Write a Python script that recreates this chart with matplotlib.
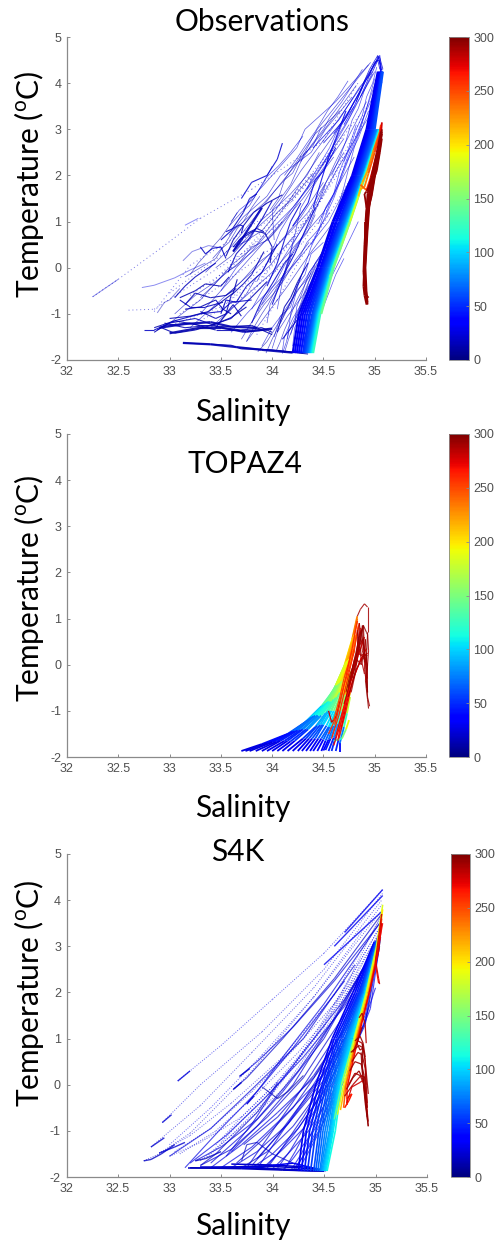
import numpy as np
import matplotlib
matplotlib.use("Agg")
import matplotlib.pyplot as plt
from matplotlib.collections import LineCollection
from matplotlib.colors import Normalize
from matplotlib.cm import ScalarMappable

plt.rcParams['font.family'] = ['Liberation Sans']
plt.rcParams['mathtext.fontset'] = 'custom'
plt.rcParams['mathtext.rm'] = 'Lato'
plt.rcParams['axes.unicode_minus'] = False

W, H = 495, 1243
nan = float('nan')
x_ticks = [32, 32.5, 33, 33.5, 34, 34.5, 35, 35.5]
x_labels = ['32', '32.5', '33', '33.5', '34', '34.5', '35', '35.5']
y_ticks = [-2, -1, 0, 1, 2, 3, 4, 5]
c_ticks = [0, 50, 100, 150, 200, 250, 300]

# ---------- Observations ----------
obs_t_levels = [-1.85, -1, 0, 1, 2, 3, 4.25]
obs_fan_d = [28, 32, 36, 40, 44, 48, 52, 56, 60, 66, 72, 80, 90, 100, 110, 125, 145]
obs_fan_s = [
    [34.20, 34.26, 34.44, 34.59, 34.78, 34.92, 35.03],
    [34.22, 34.28, 34.45, 34.60, 34.79, 34.93, 35.04],
    [34.24, 34.30, 34.47, 34.62, 34.80, 34.94, 35.05],
    [34.26, 34.32, 34.48, 34.63, 34.81, 34.95, 35.06],
    [34.28, 34.34, 34.49, 34.65, 34.82, 34.96, 35.06],
    [34.30, 34.36, 34.50, 34.66, 34.83, 34.97, 35.07],
    [34.31, 34.37, 34.51, 34.67, 34.84, 34.98, 35.07],
    [34.32, 34.39, 34.52, 34.68, 34.85, 34.99, 35.07],
    [34.33, 34.40, 34.53, 34.69, 34.86, 35.00, 35.08],
    [34.34, 34.41, 34.54, 34.70, 34.87, 35.01, nan],
    [34.35, 34.42, 34.55, 34.71, 34.88, 35.02, nan],
    [34.36, 34.43, 34.56, 34.72, 34.89, 35.03, nan],
    [34.37, 34.44, 34.57, 34.73, 34.89, 35.04, nan],
    [34.38, 34.45, 34.58, 34.74, 34.90, 35.04, nan],
    [34.39, 34.46, 34.59, 34.75, 34.90, 35.05, nan],
    [34.40, 34.47, 34.59, 34.75, 34.91, 35.05, nan],
    [nan, 34.48, 34.60, 34.76, 34.91, 35.06, nan],
]
obs_warm_s = [[34.56, 34.60, 34.68, 34.76, 34.85],
              [34.84, 34.88, 34.93, 34.99, 35.05, 35.06],
              [34.86, 34.90, 34.94, 35.00, 35.05, 35.06],
              [34.86, 34.92, 34.96, 35.02, 35.06, 35.07]]
obs_warm_t = [[-0.2, 0.0, 0.5, 1.0, 1.6],
              [1.55, 1.85, 2.1, 2.55, 2.95, 3.1],
              [1.7, 1.75, 2.05, 2.5, 2.9, 3.05],
              [1.8, 1.68, 1.95, 2.45, 2.85, 3.15]]
obs_warm_d = [[130, 145, 155, 170, 195],
              [205, 215, 225, 235, 245, 250],
              [215, 225, 240, 250, 260, 265],
              [235, 250, 265, 270, 275, 280]]
obs_deep_s = [[35.06, 35.02, 34.97, 34.93, 34.91, 34.91, 34.90, 34.92, 34.94],
              [35.06, 35.03, 34.98, 34.95, 34.92, 34.90, 34.89, 34.91, 34.93],
              [35.07, 35.04, 35.00, 34.96, 34.93, 34.91, 34.90, 34.91, 34.93],
              [35.07, 35.05, 35.02, 34.98, 34.95, 34.93, 34.91, 34.92, 34.93],
              [35.06, 35.04, 35.01, 34.97, 34.94, 34.92, 34.90, 34.91, 34.92],
              [35.07, 35.05, 35.02, 34.96, 34.92, 34.90, 34.89, 34.90, 34.92],
              [35.05, 35.02, 34.98, 34.92, 34.90, 34.92],
              [35.07, 35.05, 35.0, 34.97, 34.94, 34.93]]
obs_deep_t = [[2.95, 2.5, 2.0, 1.6, 1.0, 0.4, -0.2, -0.6, -0.65],
              [2.85, 2.45, 1.95, 1.7, 1.2, 0.5, -0.1, -0.5, -0.78],
              [2.9, 2.55, 2.1, 1.75, 1.1, 0.3, -0.3, -0.6, -0.8],
              [3.0, 2.7, 2.3, 1.85, 1.4, 0.8, 0.0, -0.5, -0.75],
              [2.9, 2.6, 2.15, 1.6, 1.25, 0.6, -0.2, -0.55, -0.7],
              [2.8, 2.5, 2.1, 1.75, 1.0, 0.2, -0.4, -0.6, -0.8],
              [2.75, 2.4, 1.95, 1.65, 1.6, 1.3],
              [2.95, 2.55, 1.95, 1.55, 1.3, 1.0]]
obs_thin_s = [
    [33.05, 33.25, 33.45, 33.7, 34.0, 34.3, 34.6],
    [33.2, 33.4, 33.6, 33.85, 34.1, 34.35, 34.7],
    [33.4, 33.55, 33.75, 34.0, 34.25, 34.5, 34.8],
    [33.6, 33.75, 33.9, 34.1, 34.3, 34.55, 34.85],
    [33.75, 33.85, 34.0, 34.15, 34.35, 34.6, 34.9],
    [33.9, 34.0, 34.1, 34.25, 34.45, 34.7, 34.95],
    [34.0, 34.05, 34.15, 34.3, 34.5, 34.75, 35.0],
    [34.1, 34.12, 34.2, 34.35, 34.55, 34.8, 35.0],
    [33.3, 33.5, 33.7, 33.9, 34.1, 34.4, 34.75],
    [33.5, 33.65, 33.8, 34.0, 34.2, 34.45, 34.7],
    [33.8, 33.9, 34.05, 34.22, 34.4, 34.65, 34.95],
    [33.0, 33.3, 33.6, 33.85, 34.15, 34.45, 34.8],
    [33.95, 33.98, 34.12, 34.2, 34.42, 34.62, 34.92],
    [33.65, 33.82, 34.02, 34.18, 34.28, 34.58, 34.86],
    [33.15, 33.45, 33.62, 33.92, 34.12, 34.42, 34.66],
    [34.15, 34.18, 34.25, 34.38, 34.6, 34.82, 35.02],
    [33.58, 33.72, 33.95, 34.08, 34.38, 34.52, 34.78],
    [33.85, 33.95, 34.08, 34.3, 34.48, 34.72, 34.98],
    [34.05, 34.1, 34.22, 34.28, 34.52, 34.68, 34.88],
    [33.35, 33.58, 33.78, 34.02, 34.22, 34.48, 34.82],
    [34.02, 34.0, 34.18, 34.32, 34.44, 34.78, 34.96],
    [33.72, 33.8, 33.98, 34.24, 34.32, 34.62, 34.94],
    [33.45, 33.6, 33.72, 33.9, 34.05, 34.2, 34.4],
    [33.55, 33.7, 33.86, 33.98, 34.15, 34.28, 34.5],
    [33.62, 33.78, 33.88, 34.06, 34.18, 34.34, 34.46],
    [33.9, 34.02, 34.14, 34.26, 34.34, 34.44, 34.56],
    [34.08, 34.16, 34.24, 34.36, 34.42, 34.56, 34.66],
    [34.18, 34.24, 34.32, 34.4, 34.5, 34.62, 34.76],
    [34.3, 34.36, 34.44, 34.5, 34.6, 34.7, 34.84],
    [34.42, 34.48, 34.54, 34.6, 34.7, 34.8, 34.9],
    [34.5, 34.56, 34.64, 34.7, 34.76, 34.86, 34.96],
    [34.64, 34.7, 34.74, 34.8, 34.86, 34.92, 35.0],
    [33.3, 33.42, 33.55, 33.66, 33.8, 33.96, 34.1],
    [33.5, 33.62, 33.74, 33.85, 33.98, 34.1, 34.22],
    [33.7, 33.78, 33.92, 34.02, 34.12, 34.22, 34.36],
    [33.86, 33.92, 34.04, 34.12, 34.24, 34.34, 34.42],
    [33.6, 33.68, 33.82, 33.94, 34.06, 34.18, 34.3],
    [34.02, 34.08, 34.18, 34.24, 34.32, 34.38, 34.5],
    [34.1, 34.14, 34.2, 34.3, 34.38, 34.46, 34.52],
    [34.2, 34.22, 34.28, 34.34, 34.42, 34.5, 34.58],
    [34.22, 34.24, 34.3, 34.36, 34.46, 34.54, 34.64],
    [33.98, 34.06, 34.12, 34.2, 34.28, 34.4, 34.48],
    [34.38, 34.46, 34.52, 34.6, 34.66, 34.74, 34.82],
    [34.52, 34.58, 34.66, 34.72, 34.8, 34.88, 34.98],
    [34.45, 34.5, 34.6, 34.68, 34.76, 34.84, 34.94],
    [34.7, 34.76, 34.82, 34.88, 34.92, 34.98, 35.02],
    [34.58, 34.66, 34.72, 34.78, 34.84, 34.9, 35.0],
    [34.34, 34.4, 34.48, 34.56, 34.64, 34.72, 34.8],
    [33.86, 33.95, 34.02, 34.1, 34.16, 34.22, 34.28],
    [33.94, 34.0, 34.08, 34.12, 34.2, 34.26, 34.32],
    [34.04, 34.08, 34.12, 34.18, 34.22, 34.3, 34.38],
    [34.1, 34.14, 34.16, 34.22, 34.26, 34.32, 34.42],
    [34.12, 34.16, 34.2, 34.24, 34.3, 34.36, 34.44],
    [33.75, 33.82, 33.9, 33.96, 34.04, 34.1, 34.18],
    [33.42, 33.5, 33.58, 33.66, 33.72, 33.8, 33.88],
    [33.58, 33.64, 33.7, 33.78, 33.86, 33.92, 34.0],
    [33.2, 33.28, 33.36, 33.42, 33.5, 33.58, 33.66],
    [34.28, 34.32, 34.38, 34.42, 34.48, 34.52, 34.6],
    [34.36, 34.4, 34.44, 34.5, 34.56, 34.62, 34.7],
    [34.12, 34.22, 34.34, 34.42, 34.54, 34.64, 34.74],
    [34.28, 34.38, 34.5, 34.56, 34.68, 34.78, 34.88],
    [34.48, 34.58, 34.64, 34.74, 34.82, 34.9, 34.98],
]
obs_thin_t = [
    [-1.0, -0.6, -0.3, 0.15, 0.7, 1.5, 2.4],
    [-1.3, -0.9, -0.5, 0.0, 0.6, 1.2, 2.5],
    [-1.3, -1.0, -0.6, -0.1, 0.55, 1.2, 2.4],
    [-1.4, -1.0, -0.65, -0.2, 0.3, 1.0, 2.3],
    [-1.6, -1.3, -0.85, -0.4, 0.25, 1.0, 2.4],
    [-1.7, -1.3, -1.0, -0.5, 0.2, 1.1, 2.5],
    [-1.75, -1.4, -1.05, -0.6, 0.1, 1.05, 2.7],
    [-1.8, -1.5, -1.1, -0.55, 0.2, 1.25, 2.9],
    [-1.0, -0.5, 0.0, 0.5, 1.0, 1.9, 3.1],
    [-0.5, 0.0, 0.35, 0.85, 1.3, 2.0, 2.8],
    [-0.9, -0.5, 0.0, 0.6, 1.2, 2.2, 3.3],
    [-1.2, -0.7, 0.05, 0.5, 1.4, 2.4, 3.5],
    [-1.2, -0.8, -0.2, 0.5, 1.35, 2.3, 3.6],
    [0.4, 0.8, 1.2, 1.75, 2.1, 3.0, 3.9],
    [-0.2, 0.2, 0.8, 1.4, 1.9, 2.9, 3.4],
    [-1.55, -1.0, -0.4, 0.45, 1.5, 2.8, 4.1],
    [0.7, 1.1, 1.55, 2.0, 2.5, 3.0, 3.7],
    [-0.3, 0.1, 0.8, 1.6, 2.2, 3.1, 4.2],
    [-0.9, -0.3, 0.7, 1.3, 2.2, 3.1, 3.9],
    [-0.1, 0.4, 0.95, 1.65, 2.2, 2.9, 3.95],
    [0.6, 1.25, 1.8, 2.5, 3.0, 3.95, 4.45],
    [1.25, 1.5, 1.95, 2.6, 3.0, 3.6, 4.4],
    [0.0, 0.25, 0.55, 0.8, 1.2, 1.5, 2.05],
    [-0.6, -0.3, 0.1, 0.3, 0.75, 1.1, 1.85],
    [0.45, 0.6, 1.0, 1.35, 1.6, 2.0, 2.5],
    [-0.8, -0.45, -0.15, 0.2, 0.55, 0.8, 1.2],
    [-1.2, -0.85, -0.5, -0.2, 0.1, 0.55, 0.9],
    [-1.45, -1.05, -0.8, -0.45, -0.05, 0.4, 0.95],
    [-1.6, -1.25, -0.85, -0.55, -0.1, 0.35, 1.0],
    [-0.7, -0.3, 0.05, 0.4, 0.95, 1.5, 2.15],
    [0.1, 0.4, 0.85, 1.15, 1.65, 2.2, 2.85],
    [1.3, 1.75, 2.1, 2.6, 3.0, 3.45, 4.1],
    [-0.65, -0.4, -0.1, 0.05, 0.45, 0.6, 1.0],
    [-1.15, -0.85, -0.6, -0.2, 0.05, 0.4, 0.7],
    [-1.55, -1.25, -0.8, -0.55, -0.25, 0.15, 0.55],
    [-0.95, -0.7, -0.3, 0.05, 0.5, 0.75, 1.15],
    [1.0, 1.25, 1.5, 1.95, 2.2, 2.5, 2.85],
    [-1.5, -1.05, -0.85, -0.4, -0.15, 0.3, 0.55],
    [-0.25, 0.05, 0.3, 0.7, 1.0, 1.45, 1.8],
    [-1.7, -1.3, -1.0, -0.75, -0.4, -0.05, 0.3],
    [-1.2, -0.85, -0.5, -0.1, 0.2, 0.6, 1.1],
    [1.25, 1.5, 1.9, 2.05, 2.4, 2.65, 3.05],
    [0.5, 0.85, 1.3, 1.6, 2.1, 2.55, 3.1],
    [1.15, 1.5, 1.9, 2.3, 2.75, 3.2, 3.7],
    [0.95, 1.2, 1.55, 2.05, 2.45, 2.8, 3.4],
    [2.3, 2.6, 3.0, 3.3, 3.7, 4.0, 4.35],
    [2.0, 2.4, 2.75, 3.2, 3.45, 3.85, 4.25],
    [1.7, 2.0, 2.3, 2.6, 3.0, 3.25, 3.6],
    [-1.82, -1.6, -1.35, -1.05, -0.85, -0.55, -0.2],
    [-1.85, -1.55, -1.2, -1.0, -0.65, -0.3, 0.0],
    [-1.8, -1.6, -1.35, -1.05, -0.8, -0.45, -0.1],
    [-1.86, -1.6, -1.4, -1.1, -0.9, -0.5, 0.05],
    [-1.84, -1.55, -1.3, -1.05, -0.7, -0.3, 0.1],
    [-1.6, -1.3, -1.0, -0.8, -0.45, -0.2, 0.2],
    [0.2, 0.4, 0.55, 0.85, 1.0, 1.3, 1.55],
    [0.9, 1.05, 1.2, 1.35, 1.65, 1.85, 2.2],
    [-0.15, 0.1, 0.3, 0.45, 0.65, 0.9, 1.2],
    [-1.8, -1.5, -1.2, -0.9, -0.65, -0.3, 0.05],
    [-1.75, -1.45, -1.2, -0.85, -0.5, -0.15, 0.2],
    [2.0, 2.3, 2.7, 2.95, 3.4, 3.7, 4.05],
    [2.3, 2.65, 3.0, 3.25, 3.6, 3.95, 4.3],
    [2.2, 2.55, 2.85, 3.2, 3.55, 3.85, 4.25],
]
obs_thin_d = [18, 22, 20, 25, 18, 24, 22, 28, 20, 26, 24, 18, 22, 20, 16, 30, 22, 26, 24, 18, 20, 22,
              15, 18, 22, 24, 20, 26, 28, 24, 30, 26, 16, 20, 18, 22, 25, 28, 24, 30, 26, 20, 32, 34, 30, 30, 28, 32,
              14, 16, 18, 20, 22, 16, 18, 20, 14, 26, 28, 24, 26, 30]
obs_dark_s = [
    [32.85, 32.95, 33.2, 33.45, 33.7, 33.9, 34.0],
    [32.88, 33.0, 33.25, 33.5, 33.72, 33.95],
    [32.85, 33.05, 33.3, 33.55, 33.8, 34.0],
    [32.75, 32.85, 33.05, 33.3, 33.5, 33.6, 33.8],
    [32.95, 33.15, 33.4, 33.6, 33.75, 33.95],
    [33.13, 33.4, 33.6, 33.7, 34.0, 34.3],
    [33.68, 33.85, 34.05, 34.35],
    [33.05, 33.15, 33.25, 33.38, 33.45],
    [33.1, 33.2, 33.35, 33.52],
    [33.15, 33.25, 33.4, 33.55, 33.65],
    [33.57, 33.65, 33.75, 33.9, 34.0],
    [33.62, 33.68, 33.82, 33.93, 34.0, 33.98],
    [33.45, 33.55, 33.6, 33.72, 33.8, 33.92],
    [33.5, 33.55, 33.65, 33.75, 33.9, 34.05],
    [33.8, 33.9, 34.0, 34.12, 34.2],
    [34.0, 34.1, 34.22, 34.3, 34.42],
    [34.2, 34.35, 34.42, 34.5, 34.62],
    [33.7, 33.8, 33.95, 34.05, 34.1],
    [33.5, 33.6, 33.72, 33.78, 33.85],
    [34.4, 34.48, 34.55, 34.62, 34.72],
    [33.95, 34.05, 34.12, 34.18, 34.28],
    [33.3, 33.45, 33.55, 33.62, 33.7],
    [33.1, 33.25, 33.35, 33.5, 33.58],
    [33.15, 33.3, 33.45, 33.52, 33.6],
    [32.92, 33.05, 33.25, 33.45, 33.6, 33.75],
    [33.0, 33.2, 33.38, 33.5, 33.62, 33.66],
    [33.55, 33.62, 33.7, 33.82, 33.95, 34.1],
    [33.62, 33.7, 33.76, 33.85, 33.92],
    [33.55, 33.62, 33.68, 33.72, 33.7],
    [33.3, 33.35, 33.42, 33.5, 33.55],
    [34.05, 34.12, 34.18, 34.25, 34.35],
    [34.1, 34.22, 34.35, 34.4, 34.48],
]
obs_dark_t = [
    [-1.4, -1.25, -1.2, -1.35, -1.35, -1.3, -1.4],
    [-1.35, -1.2, -1.1, -1.3, -1.4, -1.35],
    [-1.3, -1.15, -1.25, -1.28, -1.25, -1.45],
    [-1.35, -1.35, -1.15, -1.0, -0.95, -0.75, -0.7],
    [-1.2, -1.3, -1.25, -1.1, -0.75, -0.3],
    [-1.63, -1.66, -1.68, -1.76, -1.78, -1.85],
    [-1.73, -1.76, -1.8, -1.87],
    [-0.65, -0.4, -0.2, 0.0, 0.1],
    [-0.7, -0.85, -0.85, -0.75],
    [-0.8, -0.55, -0.65, -0.6, -0.45],
    [-0.1, 0.3, 0.55, 1.05, 1.45],
    [0.35, 0.6, 0.8, 0.75, 0.45, 0.1],
    [-1.3, -1.0, -0.6, -0.35, -0.15, 0.35],
    [-1.0, -0.7, -0.75, -0.4, -0.1, 0.5],
    [-1.2, -0.7, -0.35, 0.1, 0.3],
    [-0.8, -0.2, 0.3, 0.7, 1.3],
    [0.9, 1.4, 1.9, 2.1, 2.6],
    [1.5, 1.85, 2.0, 2.35, 2.7],
    [0.6, 0.8, 1.2, 1.5, 1.6],
    [1.3, 1.9, 2.4, 2.8, 3.4],
    [-0.4, 0.1, 0.6, 1.0, 1.4],
    [-0.95, -1.1, -1.0, -0.8, -1.05],
    [-0.65, -0.5, -0.35, -0.4, -0.2],
    [-0.9, -0.85, -0.7, -0.9, -1.0],
    [-1.3, -1.42, -1.35, -1.22, -1.08, -0.85],
    [-1.1, -1.05, -0.95, -0.75, -0.55, -0.25],
    [0.25, 0.6, 0.85, 1.2, 1.4, 1.58],
    [0.45, 0.65, 0.75, 0.85, 0.78],
    [0.78, 0.85, 0.93, 0.9, 0.75],
    [0.45, 0.3, 0.42, 0.45, 0.2],
    [-1.4, -0.85, -0.65, -0.3, 0.1],
    [-1.55, -1.2, -0.85, -0.5, -0.1],
]
obs_dark_d = [14, 16, 12, 18, 15, 14, 12, 16, 16, 14, 18, 14, 16, 18, 20, 22, 26, 20, 18, 28, 22, 15, 14, 14, 12, 14, 15, 16, 18, 18, 16, 20]
obs_top_s = [[34.5, 34.7, 34.85, 34.95, 35.03, 35.05, 35.06],
             [34.6, 34.75, 34.9, 35.0, 35.04, 35.05, 35.05],
             [34.4, 34.65, 34.85, 34.98, 35.03, 35.05, 35.07],
             [34.7, 34.8, 34.92, 35.02, 35.05, 35.06, 35.07],
             [34.82, 34.9, 34.98, 35.02, 35.03, 35.05, 35.08],
             [34.86, 34.92, 34.97, 35.0, 35.04, 35.06, 35.07]]
obs_top_t = [[2.7, 3.2, 3.8, 4.3, 4.6, 4.45, 4.1],
             [2.9, 3.4, 4.0, 4.4, 4.55, 4.4, 4.2],
             [2.6, 3.2, 3.9, 4.25, 4.5, 4.3, 4.3],
             [3.1, 3.5, 4.1, 4.5, 4.6, 4.3, 4.0],
             [3.6, 4.05, 4.35, 4.5, 4.58, 4.55, 4.3],
             [3.7, 4.0, 4.3, 4.45, 4.5, 4.4, 4.25]]
obs_top_d = [25, 30, 28, 35, 22, 26]
obs_dot_s = [[32.25, 32.5, 32.9, 33.3, 33.8, 34.5, 34.85], [32.6, 32.85, 33.3, 33.7, 34.1], [32.85, 33.2, 33.7, 34.2, 34.6],
             [33.2, 33.6, 34.0, 34.4, 34.85], [33.5, 33.85, 34.15, 34.6, 34.95], [32.95, 33.5, 33.9, 34.45, 34.9],
             [33.0, 33.4, 33.8, 34.2, 34.6], [33.4, 33.75, 34.0, 34.35, 34.7], [33.7, 33.95, 34.2, 34.5, 34.75],
             [33.1, 33.55, 33.95, 34.3, 34.5], [33.85, 34.05, 34.25, 34.5, 34.8], [33.3, 33.7, 34.05, 34.3, 34.55]]
obs_dot_t = [[-0.63, -0.25, 0.4, 1.07, 1.7, 2.75, 4.05], [-0.92, -0.9, -0.25, 0.3, 1.0], [-0.95, 0.05, 0.75, 1.55, 2.5],
             [-0.6, 0.0, 0.95, 2.0, 3.3], [-0.9, -0.1, 0.5, 2.0, 3.6], [-1.3, -0.85, -0.2, 1.35, 3.2],
             [-0.55, 0.1, 0.75, 1.45, 2.5], [-0.35, 0.4, 1.05, 1.95, 2.9], [-0.9, -0.1, 0.6, 1.55, 2.4],
             [-1.0, -0.3, 0.35, 0.95, 1.55], [-1.45, -0.7, 0.1, 0.95, 2.05], [-1.15, -0.65, -0.05, 0.55, 1.3]]
obs_dot_d = [20, 20, 25, 22, 28, 24, 20, 22, 24, 18, 26, 20]
obs_light_s = [[32.25, 32.5], [33.15, 33.28], [32.73, 32.85, 33.05, 33.2, 33.35], [33.13, 33.22, 33.38, 33.52], [32.88, 32.95, 33.0, 33.1]]
obs_light_t = [[-0.63, -0.25], [0.92, 1.07], [-0.43, -0.38, -0.22, -0.05, 0.1], [0.15, 0.35, 0.48, 0.42], [-0.98, -0.75, -0.7, -0.45]]
obs_light_d = [20, 30, 25, 20, 15]
obs_thick_s = [[33.0, 33.3, 33.5, 33.75, 34.0], [32.9, 33.15, 33.4, 33.6, 33.85], [33.13, 33.4, 33.65, 33.9, 34.2], [33.62, 33.7, 33.8, 33.9]]
obs_thick_t = [[-1.42, -1.3, -1.3, -1.38, -1.32], [-1.3, -1.22, -1.18, -1.28, -1.3], [-1.63, -1.66, -1.72, -1.78, -1.84], [0.35, 0.6, 0.95, 1.3]]
obs_thick_d = [12, 14, 14, 16]

# ---------- TOPAZ4 ----------
top_s = [
    [33.7, 33.9, 34.15, 34.32, 34.48, 34.6, 34.7, 34.78, 34.83],
    [33.74, 33.95, 34.18, 34.35, 34.5, 34.61, 34.71, 34.79, 34.83],
    [33.78, 34.0, 34.2, 34.38, 34.52, 34.62, 34.72, 34.8, 34.83],
    [33.84, 34.04, 34.22, 34.4, 34.54, 34.63, 34.73, 34.8],
    [33.9, 34.08, 34.25, 34.42, 34.55, 34.64, 34.74, 34.8],
    [33.95, 34.12, 34.28, 34.44, 34.56, 34.65, 34.75, 34.81],
    [34.0, 34.15, 34.3, 34.45, 34.56, 34.66, 34.76, 34.82],
    [34.05, 34.18, 34.33, 34.46, 34.57, 34.67, 34.76],
    [34.1, 34.22, 34.35, 34.48, 34.58, 34.68, 34.76],
    [34.15, 34.3, 34.42, 34.52, 34.6, 34.7, 34.8],
    [34.2, 34.33, 34.44, 34.54, 34.62, 34.71, 34.8],
    [34.25, 34.36, 34.47, 34.55, 34.63, 34.72, 34.8],
    [34.29, 34.39, 34.49, 34.57, 34.65, 34.73],
    [34.33, 34.42, 34.5, 34.58, 34.66, 34.74],
    [34.37, 34.45, 34.53, 34.6, 34.68, 34.75],
    [34.4, 34.48, 34.55, 34.62, 34.69, 34.76],
    [34.44, 34.5, 34.56, 34.63, 34.7, 34.77],
    [34.48, 34.52, 34.58, 34.64, 34.7, 34.78],
    [34.5, 34.55, 34.6, 34.66, 34.71, 34.79],
    [34.52, 34.57, 34.62, 34.67, 34.72, 34.8],
    [34.55, 34.6, 34.64, 34.69, 34.74],
    [34.58, 34.62, 34.66, 34.7, 34.75],
    [34.62, 34.65, 34.68, 34.72, 34.76],
    [34.66, 34.66, 34.7, 34.73, 34.76],
    [34.6, 34.68, 34.72, 34.75],
]
top_t = [
    [-1.87, -1.72, -1.5, -1.25, -0.9, -0.55, -0.05, 0.55, 1.05],
    [-1.87, -1.7, -1.48, -1.2, -0.88, -0.5, 0.0, 0.6, 1.0],
    [-1.87, -1.68, -1.45, -1.15, -0.85, -0.45, 0.05, 0.65, 0.95],
    [-1.87, -1.67, -1.44, -1.12, -0.82, -0.45, 0.08, 0.6],
    [-1.87, -1.65, -1.42, -1.1, -0.8, -0.45, 0.1, 0.6],
    [-1.87, -1.65, -1.41, -1.1, -0.8, -0.42, 0.12, 0.62],
    [-1.87, -1.65, -1.4, -1.1, -0.8, -0.4, 0.15, 0.65],
    [-1.87, -1.66, -1.4, -1.12, -0.8, -0.38, 0.12],
    [-1.87, -1.65, -1.4, -1.1, -0.8, -0.35, 0.1],
    [-1.87, -1.6, -1.35, -1.05, -0.75, -0.3, 0.35],
    [-1.87, -1.6, -1.32, -1.02, -0.72, -0.25, 0.32],
    [-1.87, -1.6, -1.3, -1.0, -0.7, -0.2, 0.3],
    [-1.87, -1.6, -1.3, -1.0, -0.65, -0.2],
    [-1.87, -1.6, -1.3, -1.0, -0.6, -0.2],
    [-1.87, -1.6, -1.32, -1.0, -0.6, -0.2],
    [-1.87, -1.6, -1.35, -1.0, -0.6, -0.2],
    [-1.87, -1.62, -1.35, -1.0, -0.62, -0.15],
    [-1.87, -1.65, -1.35, -1.0, -0.65, -0.1],
    [-1.86, -1.62, -1.32, -1.0, -0.65, -0.08],
    [-1.85, -1.6, -1.3, -1.0, -0.65, -0.05],
    [-1.87, -1.58, -1.28, -1.0, -0.6],
    [-1.87, -1.55, -1.25, -1.0, -0.55],
    [-1.87, -1.6, -1.35, -1.0, -0.6],
    [-1.89, -1.7, -1.35, -1.05, -0.7],
    [-1.65, -1.6, -1.4, -1.2],
]
top_d = [
    [22, 30, 50, 75, 115, 150, 185, 215, 245],
    [21, 30, 51, 80, 120, 158, 192, 220, 248],
    [20, 30, 52, 85, 125, 165, 200, 225, 250],
    [20, 32, 54, 88, 128, 168, 202, 230],
    [20, 35, 55, 90, 130, 170, 205, 235],
    [21, 36, 58, 92, 132, 172, 210, 240],
    [22, 38, 60, 95, 135, 175, 215, 245],
    [21, 39, 62, 98, 138, 178, 220],
    [20, 40, 65, 100, 140, 180, 225],
    [18, 40, 70, 105, 150, 190, 240],
    [18, 41, 72, 108, 152, 195, 245],
    [18, 42, 75, 110, 155, 200, 250],
    [17, 44, 78, 115, 160, 208],
    [16, 45, 80, 120, 165, 215],
    [16, 46, 82, 122, 170, 220],
    [16, 48, 85, 125, 175, 225],
    [17, 49, 85, 125, 178, 230],
    [18, 50, 85, 125, 180, 235],
    [20, 55, 90, 130, 185, 240],
    [25, 60, 95, 135, 190, 245],
    [28, 65, 100, 140, 192],
    [30, 70, 105, 145, 195],
    [25, 70, 115, 160, 205],
    [15, 50, 100, 150, 200],
    [110, 125, 175, 210],
]
top_red_s = [[34.58, 34.65, 34.72, 34.8, 34.84], [34.6, 34.68, 34.74, 34.82, 34.86], [34.55, 34.62, 34.7, 34.77, 34.85],
             [34.62, 34.7, 34.77, 34.84, 34.9], [34.65, 34.72, 34.79, 34.86, 34.92], [34.55, 34.58, 34.63, 34.66],
             [34.67, 34.74, 34.8, 34.87, 34.93], [34.6, 34.66, 34.7, 34.74, 34.78], [34.64, 34.69, 34.75, 34.81, 34.85],
             [34.61, 34.66, 34.72, 34.78, 34.83]]
top_red_t = [[-1.6, -1.1, -0.45, 0.3, 0.85], [-1.75, -1.2, -0.6, 0.2, 0.8], [-1.5, -1.15, -0.45, 0.05, 0.9],
             [-1.55, -0.9, -0.3, 0.2, 0.6], [-1.6, -1.0, -0.3, 0.1, 0.35], [-1.0, -1.25, -1.1, -0.8],
             [-1.4, -0.7, -0.25, 0.15, 0.25], [-1.2, -0.7, -0.3, 0.0, 0.3], [-1.65, -1.0, -0.55, 0.1, 0.5],
             [-1.3, -0.85, -0.25, 0.35, 0.95]]
top_red_d = [260, 270, 255, 270, 265, 280, 275, 250, 268, 258]
top_deep_s = [[34.83, 34.86, 34.9, 34.93, 34.93, 34.94, 34.92, 34.93, 34.95],
              [34.78, 34.82, 34.85, 34.88, 34.9, 34.92, 34.91, 34.93, 34.94],
              [34.74, 34.79, 34.84, 34.86, 34.89, 34.9, 34.92, 34.93],
              [34.72, 34.76, 34.82, 34.84, 34.87, 34.9, 34.93, 34.92],
              [34.76, 34.8, 34.84, 34.87, 34.9, 34.91, 34.92],
              [34.8, 34.83, 34.85, 34.88, 34.9, 34.9, 34.92],
              [34.83, 34.84, 34.87, 34.89, 34.92, 34.93, 34.92, 34.93],
              [34.77, 34.82, 34.86, 34.88, 34.91, 34.93],
              [34.74, 34.8, 34.83, 34.87, 34.89, 34.91],
              [34.75, 34.8, 34.84, 34.88, 34.9, 34.92],
              [34.78, 34.82, 34.85, 34.87, 34.89, 34.9],
              [34.7, 34.76, 34.8, 34.85, 34.87, 34.9]]
top_deep_t = [[1.05, 1.2, 1.32, 1.25, 0.7, 0.3, -0.3, -0.7, -0.9],
              [-0.3, 0.05, 0.35, 0.85, 0.2, 0.2, -0.35, -0.75, -0.95],
              [-0.5, 0.0, 0.3, 0.7, 0.85, 0.25, -0.2, -0.6],
              [-0.6, -0.2, 0.15, 0.6, 0.2, 0.15, 0.0, -0.5],
              [-0.4, -0.05, 0.25, 0.2, 0.25, 0.55, 0.05],
              [-0.1, 0.1, 0.9, 0.3, 0.15, -0.1, -0.4],
              [0.75, 0.3, 0.65, 0.85, 0.7, 0.65, 0.2, -0.6],
              [-0.6, -0.1, 0.05, 0.15, 0.1, -0.3],
              [-0.7, -0.25, 0.1, 0.0, 0.2, 0.1],
              [-0.45, 0.1, 0.35, 0.55, 0.3, 0.0],
              [-0.1, 0.3, 0.6, 0.75, 0.4, 0.05],
              [-0.85, -0.4, 0.0, 0.35, 0.1, -0.2]]
top_deep_d = [290, 295, 292, 295, 290, 288, 295, 290, 292, 290, 294, 288]

# ---------- S4K ----------
s4k_dot_s = [
    [33.08, 33.5, 34.0, 34.5, 35.07], [32.93, 33.3, 33.9, 34.5, 35.07], [32.82, 33.3, 33.8, 34.4, 35.06],
    [33.0, 33.4, 33.9, 34.4, 35.06], [32.75, 32.9, 33.2, 33.8, 34.4, 35.05], [32.9, 33.2, 33.6, 34.1, 34.6, 35.05],
    [33.0, 33.3, 33.7, 34.2, 34.7, 35.06], [33.3, 33.6, 34.0, 34.5, 35.05], [33.35, 33.7, 34.1, 34.6, 35.05],
    [33.45, 33.7, 34.0, 34.4, 35.04], [33.5, 33.8, 34.1, 34.5, 35.04],
    [33.05, 33.4, 33.8, 34.2, 34.6, 35.0], [33.1, 33.45, 33.85, 34.25, 34.65, 35.02],
]
s4k_dot_t = [
    [0.08, 0.85, 1.85, 2.85, 4.23], [-0.82, 0.0, 1.15, 2.5, 4.15], [-1.35, -0.45, 0.7, 2.1, 4.0],
    [-1.3, -0.5, 0.65, 1.9, 3.9], [-1.65, -1.5, -1.05, 0.3, 1.9, 3.75], [-1.48, -1.1, -0.4, 0.6, 1.95, 3.6],
    [-1.55, -1.25, -0.7, 0.4, 2.1, 3.7], [-1.65, -1.1, -0.2, 1.3, 3.45], [-1.6, -0.9, -0.1, 1.5, 3.35],
    [-1.3, -0.7, -0.05, 1.0, 3.4], [-1.25, -0.55, 0.1, 1.25, 3.3],
    [-1.45, -0.95, -0.15, 0.75, 1.75, 2.85], [-1.5, -1.0, -0.2, 0.7, 1.75, 2.95],
]
s4k_dot_d = [28, 26, 24, 30, 22, 26, 24, 28, 22, 28, 24, 22, 24]
s4k_end_s = [[33.08, 33.2], [32.93, 33.02], [32.82, 32.95], [32.75, 32.82, 32.92, 33.05], [34.7, 35.07], [34.6, 35.07], [34.5, 35.06], [33.62, 33.7],
             [33.68, 33.78], [33.75, 33.82], [32.9, 33.05, 33.15], [33.25, 33.35, 33.5]]
s4k_end_t = [[0.08, 0.3], [-0.82, -0.65], [-1.35, -1.15], [-1.65, -1.62, -1.5, -1.3], [3.3, 4.23], [3.0, 4.1], [2.6, 3.75], [-0.1, 0.05],
             [0.18, 0.35], [-0.42, -0.25], [-1.48, -1.35, -1.25], [-1.65, -1.6, -1.45]]
s4k_end_d = [24, 22, 20, 18, 30, 30, 30, 18, 18, 20, 22, 16]
s4k_thin_s = [
    [33.62, 33.75, 34.1, 34.6, 35.06], [33.68, 33.85, 34.2, 34.6, 35.06], [33.75, 33.9, 34.1, 34.5, 35.04], [33.25, 33.5, 33.85, 34.25, 34.7, 35.04],
    [33.3, 33.6, 33.95, 34.3, 34.75, 35.04], [33.4, 33.7, 34.05, 34.4, 34.8, 35.04], [33.5, 33.8, 34.15, 34.45, 34.85, 35.04],
    [33.6, 33.85, 34.15, 34.5, 34.85, 35.03], [33.7, 33.95, 34.2, 34.5, 34.85, 35.03], [33.8, 34.0, 34.25, 34.55, 34.9, 35.04],
    [33.9, 34.1, 34.3, 34.6, 34.9, 35.04], [34.0, 34.15, 34.35, 34.6, 34.9, 35.04], [34.1, 34.2, 34.4, 34.65, 34.95, 35.05],
    [34.2, 34.3, 34.45, 34.7, 35.0], [33.6, 33.85, 34.2, 34.55, 35.0], [33.72, 34.05, 34.4, 34.7, 35.0],
    [33.85, 34.15, 34.45, 34.75, 35.02], [33.95, 34.2, 34.5, 34.8, 35.03], [33.4, 33.75, 34.1, 34.5, 35.02],
    [33.9, 34.05, 34.15, 34.3], [33.7, 33.75, 33.85, 34.0, 34.2], [33.15, 33.5, 33.85, 34.2, 34.7], [33.0, 33.4, 33.8, 34.3, 34.8],
    [33.2, 33.55, 33.9, 34.3, 34.7, 35.04],
    [33.65, 33.9, 34.2, 34.45, 34.7, 34.95], [33.8, 34.05, 34.25, 34.5, 34.75, 34.98], [33.95, 34.1, 34.3, 34.5, 34.75, 34.98],
    [34.05, 34.18, 34.3, 34.48, 34.7, 34.96], [34.12, 34.22, 34.36, 34.55, 34.78, 35.0], [34.18, 34.28, 34.42, 34.6, 34.8, 35.02],
    [34.22, 34.32, 34.44, 34.62, 34.82, 35.03], [34.25, 34.34, 34.46, 34.65, 34.85, 35.03], [33.75, 34.0, 34.22, 34.44, 34.7, 34.98],
    [33.55, 33.8, 34.05, 34.35, 34.7, 35.0], [33.85, 34.1, 34.3, 34.55, 34.8, 35.02], [33.3, 33.45, 33.65, 33.85, 33.95, 34.05],
]
s4k_thin_t = [
    [-0.1, 0.15, 1.0, 2.3, 3.7], [0.18, 0.5, 1.25, 2.25, 3.55], [-0.42, 0.0, 0.6, 1.75, 3.5], [-1.65, -1.35, -0.75, 0.3, 1.75, 3.2],
    [-1.75, -1.4, -0.7, 0.15, 1.7, 3.3], [-1.8, -1.3, -0.6, 0.15, 1.6, 3.15], [-1.8, -1.35, -0.6, 0.1, 1.55, 3.1],
    [-1.8, -1.45, -0.85, 0.1, 1.4, 3.0], [-1.8, -1.45, -0.9, 0.0, 1.3, 3.0], [-1.8, -1.5, -0.95, 0.05, 1.5, 3.1],
    [-1.82, -1.4, -0.95, 0.1, 1.35, 3.15], [-1.82, -1.5, -1.0, -0.1, 1.3, 3.0], [-1.85, -1.6, -1.0, -0.05, 1.65, 3.2],
    [-1.85, -1.55, -1.0, 0.1, 2.1], [-1.45, -0.9, 0.0, 1.25, 3.0], [-1.3, -0.7, 0.2, 1.2, 2.9],
    [-1.6, -0.85, 0.05, 1.1, 2.8], [-1.75, -1.1, -0.15, 1.1, 3.0], [-1.7, -1.0, -0.15, 1.0, 3.05],
    [-0.05, -0.3, -0.15, 0.2], [-1.65, -1.3, -1.25, -1.5, -1.7], [-1.8, -0.95, -0.15, 0.8, 2.25], [-1.55, -0.95, -0.1, 1.0, 2.6],
    [-1.7, -1.1, -0.35, 0.6, 1.7, 3.0],
    [-1.7, -1.2, -0.5, 0.3, 1.2, 2.5], [-1.75, -1.1, -0.5, 0.25, 1.2, 2.6], [-1.8, -1.35, -0.7, 0.05, 1.15, 2.6],
    [-1.8, -1.4, -0.95, -0.1, 0.95, 2.5], [-1.82, -1.45, -0.85, 0.0, 1.1, 2.7], [-1.85, -1.5, -0.85, 0.05, 1.1, 2.85],
    [-1.85, -1.45, -0.95, 0.0, 1.15, 2.9], [-1.85, -1.5, -1.0, 0.05, 1.25, 2.95], [-1.8, -1.0, -0.3, 0.45, 1.35, 2.75],
    [-1.55, -0.85, 0.0, 0.85, 1.85, 2.9], [-1.82, -1.0, -0.35, 0.55, 1.5, 2.9], [-1.75, -1.5, -1.05, -0.6, -0.3, 0.05],
]
s4k_thin_d = [20, 24, 26, 24, 22, 26, 28, 24, 22, 26, 28, 24, 30, 28, 24, 22, 26, 28, 24, 12, 18, 26, 24, 26, 20, 22, 24, 26, 28, 30, 32, 30, 24, 26, 28, 20]
s4k_t_levels = [-1.87, -1, 0, 1, 2, 3.1]
s4k_base_s = [
    [34.25, 34.30, 34.42, 34.58, 34.78, 34.99], [34.28, 34.33, 34.45, 34.60, 34.80, 35.00], [34.31, 34.36, 34.48, 34.62, 34.82, 35.00],
    [34.34, 34.39, 34.50, 34.64, 34.84, 35.00], [34.37, 34.42, 34.52, 34.66, 34.85, 35.01], [34.40, 34.45, 34.54, 34.68, 34.86, 35.01],
    [34.42, 34.47, 34.56, 34.70, 34.87, 35.01], [34.44, 34.49, 34.58, 34.71, 34.88, 35.02], [34.46, 34.51, 34.60, 34.72, 34.88, 35.02],
    [34.47, 34.53, 34.61, 34.73, 34.89, 35.02], [34.48, 34.55, 34.62, 34.74, 34.89, 35.02], [34.49, 34.56, 34.63, 34.75, 34.90, 35.03],
    [34.50, 34.57, 34.64, 34.76, 34.90, 35.03], [34.51, 34.58, 34.65, 34.77, 34.90, 35.03], [34.52, 34.59, 34.66, 34.78, 34.91, 35.03],
    [34.53, 34.61, 34.67, 34.79, 34.91, 35.04],
]
s4k_base_d = [30, 40, 45, 50, 55, 60, 65, 70, 75, 80, 85, 90, 95, 100, 105, 112]
s4k_flat_s = [[33.18, 33.6, 34.0, 34.3, 34.5], [33.2, 33.7, 34.1, 34.4, 34.52], [33.3, 33.8, 34.15, 34.5], [33.6, 34.0, 34.3, 34.5], [33.7, 33.95, 34.2, 34.48],
              [33.4, 33.9, 34.25, 34.5]]
s4k_flat_t = [[-1.8, -1.8, -1.82, -1.85, -1.87], [-1.8, -1.82, -1.85, -1.87, -1.86], [-1.78, -1.78, -1.85, -1.87], [-1.72, -1.74, -1.78, -1.85], [-1.8, -1.76, -1.7, -1.85],
              [-1.8, -1.76, -1.8, -1.85]]
s4k_flat_d = [18, 16, 20, 22, 30, 20]
s4k_warm_s = [[34.60, 34.67, 34.79, 34.91, 35.01, 35.07], [34.63, 34.69, 34.80, 34.92, 35.02, 35.07], [34.66, 34.70, 34.81, 34.93, 35.03, 35.06],
              [34.69, 34.71, 34.82, 34.94, 35.03, 35.06], [34.72, 34.72, 34.83, 34.94, 35.03, 35.06], [34.70, 34.74, 34.77, 34.72]]
s4k_warm_t = [[-0.75, 0.0, 1.0, 2.0, 3.0, 3.9], [-0.65, 0.0, 1.0, 2.0, 3.0, 3.8], [-0.55, -0.05, 1.0, 2.0, 3.0, 3.7],
              [-0.5, -0.05, 1.0, 2.0, 3.0, 3.6], [-0.45, -0.1, 1.0, 2.0, 2.9, 3.5], [-0.5, -0.35, -0.2, -0.3]]
s4k_warm_d = [[130, 150, 165, 175, 180, 190], [180, 185, 190, 195, 195, 200], [215, 210, 215, 220, 225, 225],
              [245, 240, 245, 250, 250, 255], [265, 265, 270, 270, 275, 280], [260, 265, 265, 260]]
s4k_deep_s = [[34.72, 34.78, 34.84, 34.88, 34.9, 34.93], [34.74, 34.8, 34.85, 34.89, 34.91, 34.93], [34.7, 34.78, 34.86, 34.9, 34.92],
              [34.75, 34.8, 34.86, 34.89, 34.92], [34.77, 34.83, 34.87, 34.9, 34.92], [34.76, 34.84, 34.88, 34.9, 34.93],
              [34.78, 34.83, 34.87, 34.9, 34.91], [34.8, 34.85, 34.88, 34.9], [34.84, 34.87, 34.9, 34.91], [35.06, 35.0, 35.03, 35.04],
              [35.07, 35.02, 35.0, 35.03], [34.87, 34.82, 34.85, 34.88], [34.72, 34.77, 34.85, 34.88, 34.92],
              [34.87, 34.87, 34.88, 34.89, 34.91, 34.93], [34.86, 34.87, 34.89, 34.9, 34.92]]
s4k_deep_t = [[-0.1, 0.15, 0.3, 0.1, -0.4, -0.9], [0.0, 0.25, 0.2, 0.0, -0.4, -0.8], [-0.25, 0.0, 0.2, 0.15, -0.5],
              [0.3, 0.5, 0.45, 0.2, -0.5], [0.5, 0.7, 0.65, 0.35, -0.4], [0.7, 0.85, 0.8, 0.5, -0.2],
              [0.7, 0.95, 0.9, 0.55, 0.0], [0.95, 1.05, 0.9, 0.6], [1.45, 1.55, 1.3, 0.9], [3.7, 2.7, 2.3, 2.18],
              [3.5, 2.9, 2.6, 2.2], [1.25, 0.9, 0.75, 0.8], [-0.4, -0.05, 0.05, 0.1, -0.6],
              [0.9, 0.5, 0.15, -0.1, -0.5, -0.9], [0.7, 0.3, 0.0, -0.2, -0.7]]
s4k_deep_d = [292, 290, 285, 292, 290, 292, 288, 292, 285, 280, 270, 290, 280, 295, 295]

cmap = plt.get_cmap('jet')
norm = Normalize(0, 300)


def draw(ax, S, T, D, lw, alpha=1.0, ls='-'):
    for s, t, d in zip(S, T, D):
        s = np.asarray(s, float)
        t = np.asarray(t, float)
        keep = ~np.isnan(s)
        s, t = s[keep], t[keep]
        dv = np.asarray(d, float)
        if dv.ndim:
            dv = dv[keep]
            seg_d = (dv[:-1] + dv[1:]) / 2
        else:
            seg_d = np.full(len(s) - 1, float(dv))
        pts = np.column_stack([s, t])
        segs = np.stack([pts[:-1], pts[1:]], axis=1)
        lc = LineCollection(segs, cmap=cmap, norm=norm, linewidths=lw, alpha=alpha, linestyles=ls)
        lc.set_array(seg_d)
        ax.add_collection(lc)


def make_panel(px_left, px_right, px_top, px_bottom, cb_left, cb_right):
    ax = fig.add_axes([px_left / W, 1 - px_bottom / H, (px_right - px_left) / W, (px_bottom - px_top) / H])
    ax.set_xlim(32, 35.5)
    ax.set_ylim(-2, 5)
    ax.set_xticks(x_ticks, x_labels)
    ax.set_yticks(y_ticks)
    ax.spines[['top', 'right']].set_visible(False)
    for sp in ['left', 'bottom']:
        ax.spines[sp].set_color('#8a8a8a')
        ax.spines[sp].set_linewidth(0.9)
    ax.tick_params(direction='in', length=2.5, width=0.7, color='#8a8a8a', labelcolor='#505050', labelsize=9, pad=4)
    cax = fig.add_axes([cb_left / W, 1 - px_bottom / H, (cb_right - cb_left) / W, (px_bottom - px_top) / H])
    cb = fig.colorbar(ScalarMappable(norm=norm, cmap=cmap), cax=cax)
    cb.set_ticks(c_ticks)
    cb.ax.tick_params(direction='in', length=2.5, width=0.6, color='#8a8a8a', labelcolor='#505050', labelsize=9, pad=3)
    cb.outline.set_edgecolor('#8a8a8a')
    cb.outline.set_linewidth(0.6)
    return ax


def label(x, y, s, size=21.5, rot=0):
    fig.text(x / W, 1 - y / H, s, family='Lato', fontsize=size, rotation=rot, ha='center', va='center', color='black')


fig = plt.figure(figsize=(W / 100, H / 100), dpi=100)

ax1 = make_panel(67, 426, 37, 360, 449, 469)
draw(ax1, obs_dot_s, obs_dot_t, obs_dot_d, 0.7, 0.55, (0, (1, 3)))
draw(ax1, obs_light_s, obs_light_t, obs_light_d, 0.7, 0.45)
draw(ax1, obs_thin_s, obs_thin_t, obs_thin_d, 0.5, 0.65)
draw(ax1, obs_dark_s, obs_dark_t, obs_dark_d, 0.8, 0.85)
draw(ax1, obs_thick_s, obs_thick_t, obs_thick_d, 1.6, 0.9)
draw(ax1, obs_top_s, obs_top_t, obs_top_d, 0.6, 0.8)
draw(ax1, obs_fan_s, [obs_t_levels] * len(obs_fan_s), obs_fan_d, 1.5)
draw(ax1, obs_warm_s, obs_warm_t, obs_warm_d, 1.3)
draw(ax1, obs_deep_s, obs_deep_t, [295] * len(obs_deep_s), 1.3)

ax2 = make_panel(67, 426, 434, 757, 449, 469)
draw(ax2, top_s, top_t, top_d, 1.3)
draw(ax2, top_red_s, top_red_t, top_red_d, 0.9)
draw(ax2, top_deep_s, top_deep_t, top_deep_d, 0.8, 0.85)

ax3 = make_panel(66.5, 427, 854, 1177, 451, 470)
draw(ax3, s4k_dot_s, s4k_dot_t, s4k_dot_d, 0.7, 0.6, (0, (1, 1.5)))
draw(ax3, s4k_end_s, s4k_end_t, s4k_end_d, 1.0, 0.8)
draw(ax3, s4k_thin_s, s4k_thin_t, s4k_thin_d, 0.8, 0.7)
draw(ax3, s4k_flat_s, s4k_flat_t, s4k_flat_d, 1.1)
draw(ax3, s4k_base_s, [s4k_t_levels] * len(s4k_base_s), s4k_base_d, 1.2)
draw(ax3, s4k_warm_s, s4k_warm_t, s4k_warm_d, 1.1)
draw(ax3, s4k_deep_s, s4k_deep_t, s4k_deep_d, 0.9, 0.9)

ylab = 'Temperature ($^{\\mathrm{o}}$C)'
label(262, 22, 'Observations')
label(245, 464, 'TOPAZ4')
label(238, 852, 'S4K')
label(243, 412, 'Salinity')
label(243, 808, 'Salinity')
label(243, 1226, 'Salinity')
label(29, 184, ylab, rot=90)
label(29, 588, ylab, rot=90)
label(29, 993, ylab, rot=90)

fig.savefig('out.png', dpi=100)
